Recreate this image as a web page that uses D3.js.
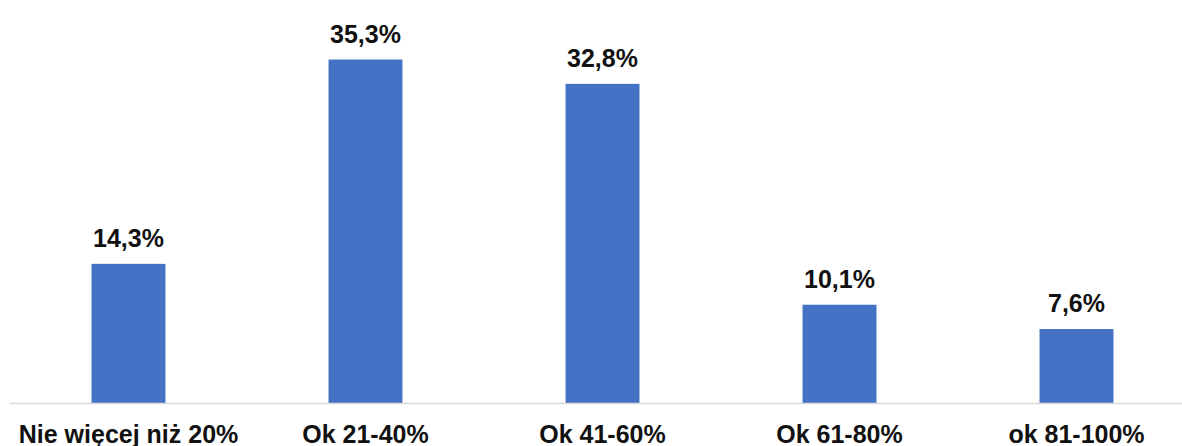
<!DOCTYPE html>
<html>
<head>
<meta charset="utf-8">
<script src="https://cdn.jsdelivr.net/npm/d3@7"></script>
<style>
  html, body { margin: 0; padding: 0; background: #fff; }
  svg { display: block; }
</style>
</head>
<body>
<svg id="chart" width="1182" height="446"></svg>
<script>
// Share of respondents by range
const categories = ["Nie więcej niż 20%", "Ok 21-40%", "Ok 41-60%", "Ok 61-80%", "ok 81-100%"];
const values = [14.3, 35.3, 32.8, 10.1, 7.6];
const valueLabels = ["14,3%", "35,3%", "32,8%", "10,1%", "7,6%"];

const svg = d3.select("#chart");
const W = 1182, H = 446;
const baseY = 403;

const x = d3.scaleBand()
  .domain(categories)
  .range([10, 1195])
  .paddingInner(0.688)
  .paddingOuter(0.344);

const y = d3.scaleLinear()
  .domain([0, 40])
  .range([baseY, baseY - 389.2]);

const fontFam = "'Liberation Sans', Arial, sans-serif";

// Bars
svg.append("g")
  .selectAll("rect")
  .data(values)
  .join("rect")
  .attr("x", (d, i) => x(categories[i]))
  .attr("y", d => y(d))
  .attr("width", x.bandwidth())
  .attr("height", d => y(0) - y(d))
  .attr("fill", "#4472C4");

// Baseline
svg.append("line")
  .attr("x1", 10).attr("x2", W)
  .attr("y1", baseY + 0.5).attr("y2", baseY + 0.5)
  .attr("stroke", "#d9d9d9")
  .attr("stroke-width", 1.5);

// Value labels
svg.append("g")
  .selectAll("text")
  .data(values)
  .join("text")
  .attr("x", (d, i) => x(categories[i]) + x.bandwidth() / 2)
  .attr("y", d => y(d) - 17)
  .attr("text-anchor", "middle")
  .attr("font-family", fontFam)
  .attr("font-weight", "bold")
  .attr("font-size", 25)
  .attr("fill", "#111")
  .text((d, i) => valueLabels[i]);

// Category axis labels
const xAxis = d3.axisBottom(x).tickSize(0).tickPadding(0);
const gx = svg.append("g")
  .attr("transform", `translate(0, ${baseY})`)
  .call(xAxis);
gx.select(".domain").remove();
gx.selectAll("text")
  .attr("dy", null)
  .attr("y", 40)
  .attr("font-family", fontFam)
  .attr("font-weight", "bold")
  .attr("font-size", 25)
  .attr("fill", "#111");
</script>
</body>
</html>
